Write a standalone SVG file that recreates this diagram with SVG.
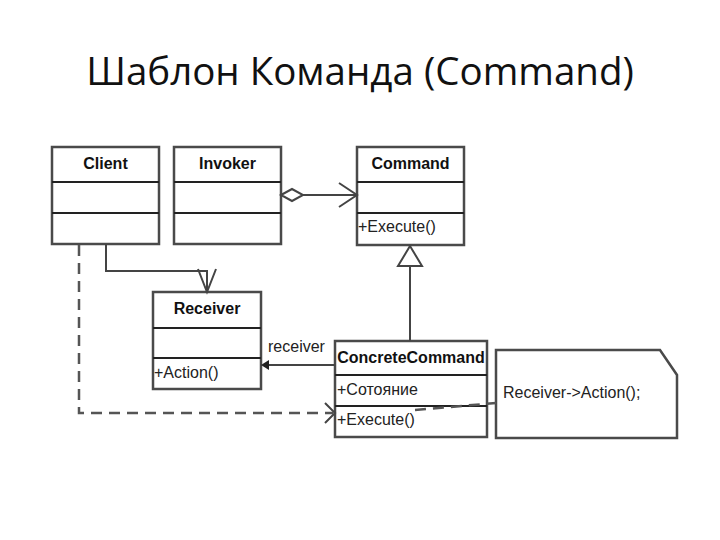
<svg xmlns="http://www.w3.org/2000/svg" width="720" height="540" viewBox="0 0 720 540">
<style>
.box{fill:#fff;stroke:#4a4a4a;stroke-width:2.5}
.sep{stroke:#222;stroke-width:2}
.name{font-family:"Liberation Sans",Arial,sans-serif;font-size:16px;font-weight:bold;fill:#111;text-anchor:middle}
.op{font-family:"Liberation Sans",Arial,sans-serif;font-size:16px;fill:#222}
.ln{fill:none;stroke:#444;stroke-width:2}
.dash{fill:none;stroke:#555;stroke-width:2.5;stroke-dasharray:11 7}
.title{font-family:"Open Sans","Liberation Sans",sans-serif;font-size:38.5px;fill:#111;text-anchor:middle}
</style>
<rect width="720" height="540" fill="#fff"/>
<text class="title" x="360" y="85">Шаблон Команда (Command)</text>

<g id="client">
<rect class="box" x="52" y="147" width="107" height="97"/>
<line class="sep" x1="52" y1="182" x2="159" y2="182"/>
<line class="sep" x1="52" y1="213" x2="159" y2="213"/>
<text class="name" x="105.5" y="169">Client</text>
</g>
<g id="invoker">
<rect class="box" x="174" y="147" width="107" height="97"/>
<line class="sep" x1="174" y1="182" x2="281" y2="182"/>
<line class="sep" x1="174" y1="213" x2="281" y2="213"/>
<text class="name" x="227.5" y="169">Invoker</text>
</g>
<g id="command">
<rect class="box" x="357" y="147" width="107" height="98"/>
<line class="sep" x1="357" y1="182" x2="464" y2="182"/>
<line class="sep" x1="357" y1="213" x2="464" y2="213"/>
<text class="name" x="410.5" y="169">Command</text>
<text class="op" x="358" y="232">+Execute()</text>
</g>
<g id="receiver">
<rect class="box" x="153" y="292" width="108" height="97"/>
<line class="sep" x1="153" y1="328" x2="261" y2="328"/>
<line class="sep" x1="153" y1="358" x2="261" y2="358"/>
<text class="name" x="207" y="314">Receiver</text>
<text class="op" x="154" y="378">+Action()</text>
</g>
<g id="concretecommand">
<rect class="box" x="335" y="341" width="152" height="96"/>
<line class="sep" x1="335" y1="375" x2="487" y2="375"/>
<line class="sep" x1="335" y1="406" x2="487" y2="406"/>
<text class="name" x="411" y="363">ConcreteCommand</text>
<text class="op" x="337" y="395">+Сотояние</text>
<text class="op" x="337" y="425">+Execute()</text>
</g>
<g id="note">
<path class="box" d="M496 350 L660 350 L677 375 L677 438 L496 438 Z"/>
<text class="op" x="503" y="398">Receiver-&gt;Action();</text>
</g>

<g id="connectors">
<path class="ln" d="M281 195 L292 189 L303 195 L292 201 Z" fill="#fff"/>
<line class="ln" x1="303" y1="195" x2="357" y2="195"/>
<path class="ln" d="M339 183 L357 195 L339 207"/>
<path class="ln" d="M410 246 L422 266 L398 266 Z" fill="#fff"/>
<line class="ln" x1="410" y1="266" x2="410" y2="341"/>
<path class="ln" d="M106 244 L106 271 L207 271 L207 292"/>
<path class="ln" d="M198 269 L207 292 L216 269"/>
<path class="dash" d="M79 245 L79 413 L333 413"/>
<path class="ln" d="M325 403 L335 413 L325 423"/>
<line class="ln" x1="335" y1="365" x2="264" y2="365"/>
<path d="M261 365 L269 360 L269 370 Z" fill="#222"/>
<text class="op" x="268" y="352">receiver</text>
<path class="dash" d="M415 410 L496 403" stroke-width="2" stroke-dasharray="10 8"/>
</g>
</svg>
